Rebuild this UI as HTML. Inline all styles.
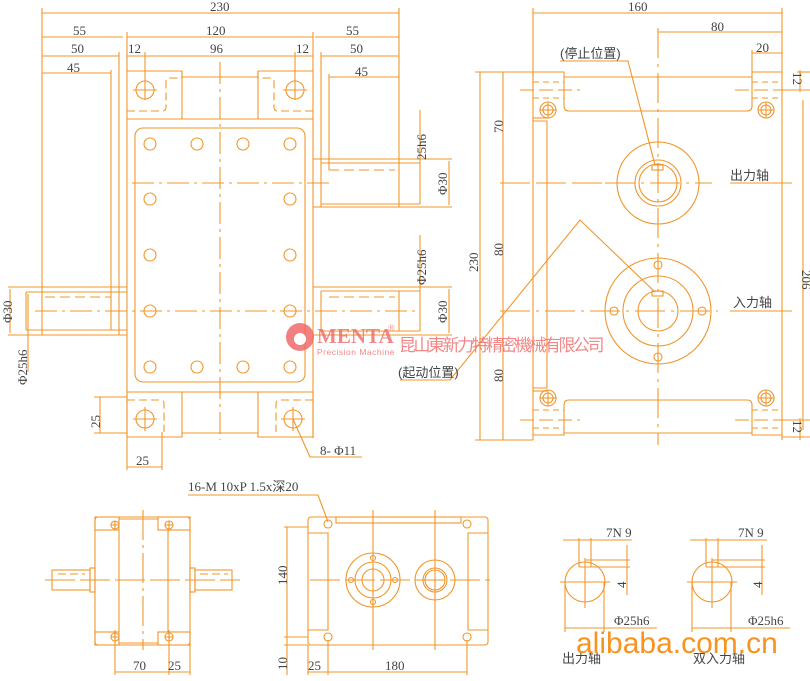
<!DOCTYPE html>
<html><head><meta charset="utf-8"><style>
html,body{margin:0;padding:0;background:#fff;width:810px;height:681px;overflow:hidden}
svg{display:block}
text{font-family:"Liberation Serif","Noto Sans CJK SC",serif;fill:#444;font-size:13px}
.c{font-family:"Liberation Sans","Noto Sans CJK SC",sans-serif}
</style></head><body>
<svg width="810" height="681" viewBox="0 0 810 681" xmlns="http://www.w3.org/2000/svg">
<g stroke="#f0962a" stroke-width="1.1" fill="none">
<line x1="42" y1="13" x2="399" y2="13"/>
<line x1="42" y1="37" x2="123" y2="37"/><line x1="127" y1="37" x2="313" y2="37"/><line x1="315" y1="37" x2="399" y2="37"/>
<line x1="42" y1="56" x2="119" y2="56"/><line x1="127" y1="56" x2="313" y2="56"/><line x1="321" y1="56" x2="399" y2="56"/>
<line x1="42" y1="73" x2="111" y2="73"/><line x1="329" y1="77" x2="399" y2="77"/>
<line x1="42" y1="8" x2="42" y2="335"/><line x1="399" y1="8" x2="399" y2="207"/>
<line x1="127" y1="32" x2="127" y2="438"/><line x1="313" y1="32" x2="313" y2="438"/>
<line x1="119" y1="52" x2="119" y2="335"/><line x1="111" y1="70" x2="111" y2="330"/>
<line x1="321" y1="52" x2="321" y2="207"/><line x1="329" y1="74" x2="329" y2="170"/>
<line x1="145" y1="52" x2="145" y2="100"/><line x1="295" y1="52" x2="295" y2="100"/>
<path d="M127 71 H182 V77 H258 V71 H313"/>
<line x1="182" y1="71" x2="182" y2="119"/><line x1="258" y1="71" x2="258" y2="119"/>
<line x1="127" y1="119" x2="313" y2="119"/>
<path d="M127 111 H162 Q166 111 166 107 V82 Q166 78 170 78 H182" stroke-dasharray="8 4"/>
<path d="M313 111 H278 Q274 111 274 107 V82 Q274 78 270 78 H258" stroke-dasharray="8 4"/>
<rect x="135" y="128" width="170" height="254" rx="8"/>
<line x1="127" y1="392" x2="313" y2="392"/>
<path d="M127 392 V437 H182 V392"/><path d="M313 392 V437 H258 V392"/>
<line x1="182" y1="433" x2="258" y2="433"/>
<path d="M127 400 H160 Q164 400 164 404 V432" stroke-dasharray="8 4"/>
<path d="M313 400 H280 Q276 400 276 404 V432" stroke-dasharray="8 4"/>
<line x1="220" y1="62" x2="220" y2="440" stroke-dasharray="22 5 3 5"/>
<line x1="132" y1="183" x2="330" y2="183" stroke-dasharray="22 5 3 5"/>
<line x1="35" y1="311" x2="420" y2="311" stroke-dasharray="22 5 3 5"/>
<circle cx="145" cy="90" r="9"/><line x1="133" y1="90" x2="157" y2="90"/>
<circle cx="295" cy="90" r="9"/><line x1="283" y1="90" x2="307" y2="90"/>
<circle cx="145" cy="419" r="9"/><line x1="133" y1="419" x2="157" y2="419"/><line x1="145" y1="407" x2="145" y2="431"/>
<circle cx="293" cy="419" r="9"/><line x1="281" y1="419" x2="305" y2="419"/><line x1="293" y1="407" x2="293" y2="431"/>
<g>
<circle cx="150" cy="144" r="6"/><circle cx="197" cy="144" r="6"/><circle cx="243" cy="144" r="6"/><circle cx="290" cy="144" r="6"/>
<circle cx="150" cy="199" r="6"/><circle cx="290" cy="199" r="6"/>
<circle cx="150" cy="255" r="6"/><circle cx="290" cy="255" r="6"/>
<circle cx="150" cy="311" r="6"/><circle cx="290" cy="311" r="6"/>
<circle cx="150" cy="367" r="6"/><circle cx="197" cy="367" r="6"/><circle cx="243" cy="367" r="6"/><circle cx="290" cy="367" r="6"/>
</g>
<line x1="8" y1="287" x2="127" y2="287"/><line x1="26" y1="292" x2="127" y2="292"/>
<line x1="26" y1="330" x2="127" y2="330"/><line x1="8" y1="335" x2="127" y2="335"/>
<line x1="26" y1="292" x2="26" y2="330"/>
<line x1="45" y1="297" x2="111" y2="297" stroke-dasharray="10 5"/>
<line x1="10" y1="289" x2="10" y2="333"/><line x1="28" y1="294" x2="28" y2="372"/>
<line x1="313" y1="159" x2="452" y2="159"/><line x1="321" y1="163" x2="420" y2="163"/>
<line x1="321" y1="204" x2="420" y2="204"/><line x1="313" y1="207" x2="452" y2="207"/>
<line x1="329" y1="170" x2="395" y2="170" stroke-dasharray="10 5"/>
<line x1="420" y1="110" x2="420" y2="204"/><line x1="449" y1="161" x2="449" y2="205"/>
<line x1="313" y1="287" x2="452" y2="287"/><line x1="321" y1="291" x2="420" y2="291"/>
<line x1="321" y1="331" x2="420" y2="331"/><line x1="313" y1="335" x2="452" y2="335"/>
<line x1="329" y1="297" x2="395" y2="297" stroke-dasharray="10 5"/>
<line x1="321" y1="291" x2="321" y2="331"/><line x1="399" y1="291" x2="399" y2="331"/>
<line x1="420" y1="235" x2="420" y2="331"/><line x1="449" y1="289" x2="449" y2="333"/>
<line x1="94" y1="397" x2="127" y2="397"/><line x1="94" y1="433" x2="127" y2="433"/><line x1="100" y1="397" x2="100" y2="433"/>
<line x1="127" y1="438" x2="127" y2="470"/><line x1="162" y1="432" x2="162" y2="470"/><line x1="127" y1="467" x2="162" y2="467"/>
<polyline points="293,419 310,457 362,457"/>
<line x1="533" y1="8" x2="533" y2="75"/><line x1="782" y1="8" x2="782" y2="440"/>
<line x1="533" y1="13" x2="782" y2="13"/>
<line x1="658" y1="28" x2="658" y2="445" stroke-dasharray="30 6 3 6"/>
<line x1="658" y1="32" x2="782" y2="32"/>
<line x1="752" y1="53" x2="782" y2="53"/><line x1="752" y1="50" x2="752" y2="72"/>
<path d="M533 72 H564 V106 Q564 111 569 111 H747 Q752 111 752 106 V72 H782"/>
<line x1="564" y1="77" x2="752" y2="77"/>
<line x1="533" y1="72" x2="533" y2="440"/>
<line x1="533" y1="82" x2="564" y2="82" stroke-dasharray="6 4"/><line x1="533" y1="98" x2="564" y2="98" stroke-dasharray="6 4"/>
<line x1="752" y1="82" x2="782" y2="82" stroke-dasharray="6 4"/><line x1="752" y1="98" x2="782" y2="98" stroke-dasharray="6 4"/>
<line x1="520" y1="90" x2="580" y2="90" stroke-dasharray="14 5"/><line x1="735" y1="90" x2="795" y2="90" stroke-dasharray="14 5"/>
<path d="M533 435 H564 V405 Q564 400 569 400 H747 Q752 400 752 405 V435 H782"/>
<line x1="564" y1="433" x2="752" y2="433"/>
<line x1="533" y1="410" x2="564" y2="410" stroke-dasharray="6 4"/><line x1="533" y1="428" x2="564" y2="428" stroke-dasharray="6 4"/>
<line x1="752" y1="410" x2="782" y2="410" stroke-dasharray="6 4"/><line x1="752" y1="428" x2="782" y2="428" stroke-dasharray="6 4"/>
<line x1="520" y1="420" x2="580" y2="420" stroke-dasharray="14 5"/><line x1="735" y1="420" x2="795" y2="420" stroke-dasharray="14 5"/>
<path d="M533 121 H547 V388 H533"/><line x1="533" y1="118" x2="547" y2="118"/><line x1="533" y1="391" x2="547" y2="391"/>
<circle cx="548" cy="110" r="8"/><circle cx="548" cy="110" r="5"/><line x1="540" y1="110" x2="556" y2="110"/><line x1="548" y1="102" x2="548" y2="118"/>
<circle cx="766" cy="110" r="8"/><circle cx="766" cy="110" r="5"/><line x1="758" y1="110" x2="774" y2="110"/><line x1="766" y1="102" x2="766" y2="118"/>
<circle cx="548" cy="398" r="8"/><circle cx="548" cy="398" r="5"/><line x1="540" y1="398" x2="556" y2="398"/><line x1="548" y1="390" x2="548" y2="406"/>
<circle cx="766" cy="398" r="8"/><circle cx="766" cy="398" r="5"/><line x1="758" y1="398" x2="774" y2="398"/><line x1="766" y1="390" x2="766" y2="406"/>
<circle cx="658" cy="183" r="41"/><circle cx="658" cy="183" r="23"/><circle cx="658" cy="183" r="19"/>
<rect x="652" y="165" width="11" height="5"/>
<line x1="500" y1="183" x2="605" y2="183" stroke-dasharray="30 6"/><line x1="605" y1="183" x2="712" y2="183" stroke-dasharray="30 6 3 6"/>
<line x1="730" y1="183" x2="792" y2="183"/>
<circle cx="658" cy="311" r="53"/><circle cx="658" cy="311" r="35"/><circle cx="658" cy="311" r="20"/>
<rect x="652" y="291" width="11" height="5"/>
<circle cx="658" cy="265" r="4"/><circle cx="658" cy="357" r="4"/><circle cx="614" cy="311" r="4"/><circle cx="702" cy="311" r="4"/>
<line x1="500" y1="311" x2="718" y2="311" stroke-dasharray="30 6 3 6"/>
<line x1="730" y1="311" x2="792" y2="311"/>
<line x1="475" y1="72" x2="533" y2="72"/><line x1="475" y1="440" x2="533" y2="440"/>
<line x1="480" y1="72" x2="480" y2="440"/><line x1="503" y1="72" x2="503" y2="440"/>
<line x1="797" y1="72" x2="810" y2="72"/><line x1="782" y1="90" x2="810" y2="90"/><line x1="782" y1="420" x2="810" y2="420"/><line x1="782" y1="437" x2="810" y2="437"/>
<line x1="803" y1="100" x2="803" y2="430"/><line x1="800" y1="70" x2="800" y2="92"/><line x1="800" y1="418" x2="800" y2="440"/>
<polyline points="560,61 628,61 655,165"/>
<polyline points="400,380 450,380 580,220 655,292"/>
<rect x="95" y="517" width="95" height="128" rx="3"/>
<line x1="119" y1="530" x2="119" y2="632"/><line x1="168" y1="530" x2="168" y2="632"/>
<line x1="143" y1="510" x2="143" y2="650" stroke-dasharray="30 5 3 5"/>
<rect x="95" y="517" width="24" height="13"/><rect x="158" y="517" width="32" height="13"/>
<rect x="95" y="632" width="24" height="13"/><rect x="158" y="632" width="32" height="13"/>
<line x1="119" y1="519" x2="158" y2="519"/><line x1="119" y1="643" x2="158" y2="643"/>
<circle cx="115" cy="525" r="4"/><circle cx="169" cy="525" r="4"/><circle cx="115" cy="637" r="4"/><circle cx="169" cy="637" r="4"/>
<path d="M111 525h8M115 521v8M165 525h8M169 521v8M111 637h8M115 633v8M165 637h8M169 633v8"/>
<rect x="90" y="568" width="5" height="24"/><rect x="190" y="568" width="5" height="24"/>
<rect x="52" y="570" width="38" height="20"/><rect x="195" y="570" width="37" height="20"/>
<line x1="58" y1="574" x2="85" y2="574" stroke-dasharray="8 4"/><line x1="200" y1="574" x2="228" y2="574" stroke-dasharray="8 4"/>
<line x1="45" y1="580" x2="240" y2="580" stroke-dasharray="30 5"/>
<line x1="115" y1="630" x2="115" y2="675"/><line x1="169" y1="630" x2="169" y2="675"/><line x1="190" y1="645" x2="190" y2="675"/>
<line x1="115" y1="672" x2="190" y2="672"/>
<rect x="308" y="517" width="180" height="128" rx="3"/>
<path d="M311 533 H328 V630 H311"/><path d="M485 533 H468 V630 H485"/>
<line x1="308" y1="533" x2="328" y2="533"/><line x1="308" y1="630" x2="328" y2="630"/>
<line x1="468" y1="533" x2="488" y2="533"/><line x1="468" y1="630" x2="488" y2="630"/>
<rect x="336" y="517" width="125" height="6"/>
<circle cx="328" cy="524" r="4"/><circle cx="467" cy="524" r="4"/><circle cx="328" cy="637" r="4"/><circle cx="467" cy="637" r="4"/>
<circle cx="373" cy="580" r="27"/><circle cx="373" cy="580" r="18"/><circle cx="373" cy="580" r="11"/>
<circle cx="373" cy="558" r="2.5"/><circle cx="373" cy="602" r="2.5"/><circle cx="351" cy="580" r="2.5"/><circle cx="395" cy="580" r="2.5"/>
<circle cx="435" cy="580" r="20"/><circle cx="435" cy="580" r="12"/><circle cx="435" cy="580" r="10"/>
<line x1="373" y1="510" x2="373" y2="650"/><line x1="435" y1="510" x2="435" y2="650"/>
<line x1="310" y1="580" x2="490" y2="580" stroke-dasharray="30 5"/>
<line x1="284" y1="527" x2="308" y2="527"/><line x1="284" y1="637" x2="308" y2="637"/><line x1="284" y1="645" x2="308" y2="645"/>
<line x1="287" y1="527" x2="287" y2="675"/>
<line x1="308" y1="645" x2="308" y2="675"/><line x1="328" y1="640" x2="328" y2="675"/><line x1="467" y1="640" x2="467" y2="675"/>
<line x1="308" y1="672" x2="467" y2="672"/>
<polyline points="188,495 318,495 328,522"/>
<circle cx="585" cy="582" r="20"/>
<line x1="560" y1="582" x2="610" y2="582"/><line x1="585" y1="558" x2="585" y2="608"/>
<path d="M579 567 V538 M591 567 V538"/><line x1="579" y1="567" x2="630" y2="567"/>
<line x1="563" y1="540" x2="632" y2="540"/><line x1="585" y1="560" x2="630" y2="560"/>
<line x1="627" y1="545" x2="627" y2="595"/>
<line x1="565" y1="582" x2="565" y2="632"/><line x1="604" y1="582" x2="604" y2="632"/><line x1="565" y1="628" x2="657" y2="628"/>
<circle cx="712" cy="582" r="20"/>
<line x1="687" y1="582" x2="737" y2="582"/><line x1="712" y1="558" x2="712" y2="608"/>
<path d="M706 567 V538 M718 567 V538"/><line x1="706" y1="567" x2="765" y2="567"/>
<line x1="690" y1="540" x2="767" y2="540"/><line x1="712" y1="560" x2="765" y2="560"/>
<line x1="762" y1="545" x2="762" y2="595"/>
<line x1="692" y1="582" x2="692" y2="632"/><line x1="731" y1="582" x2="731" y2="632"/><line x1="692" y1="628" x2="790" y2="628"/>
</g>
<g fill="#f06a6a" opacity="0.85">
<circle cx="300" cy="337" r="14"/>
</g>
<circle cx="300" cy="339" r="6" fill="#fff"/>
<g>
<text x="210" y="11">230</text>
<text x="73" y="35">55</text><text x="206" y="35">120</text><text x="346" y="35">55</text>
<text x="71" y="53">50</text><text x="128" y="53">12</text><text x="210" y="53">96</text><text x="296" y="53">12</text><text x="350" y="53">50</text>
<text x="67" y="72">45</text><text x="355" y="76">45</text>
<text transform="translate(426,160) rotate(-90)">25h6</text>
<text transform="translate(447,195) rotate(-90)">Φ30</text>
<text transform="translate(426,285) rotate(-90)">Φ25h6</text>
<text transform="translate(447,323) rotate(-90)">Φ30</text>
<text transform="translate(12,323) rotate(-90)">Φ30</text>
<text transform="translate(27,385) rotate(-90)">Φ25h6</text>
<text transform="translate(100,428) rotate(-90)">25</text>
<text x="136" y="465">25</text>
<text x="320" y="455">8- Φ11</text>
<text x="628" y="11">160</text><text x="711" y="31">80</text><text x="756" y="52">20</text>
<text class="c" x="560" y="58">(停止位置)</text>
<text class="c" x="730" y="180">出力轴</text>
<text class="c" x="733" y="307">入力轴</text>
<text class="c" x="398" y="377">(起动位置)</text>
<text transform="translate(478,272) rotate(-90)">230</text>
<text transform="translate(503,133) rotate(-90)">70</text>
<text transform="translate(503,256) rotate(-90)">80</text>
<text transform="translate(503,382) rotate(-90)">80</text>
<text transform="translate(802,270) rotate(90)">206</text>
<text transform="translate(793,72) rotate(90)">12</text>
<text transform="translate(793,420) rotate(90)">12</text>
<text x="188" y="491">16-M 10xP 1.5x深20</text>
<text transform="translate(287,585) rotate(-90)">140</text>
<text transform="translate(287,670) rotate(-90)">10</text>
<text x="133" y="670">70</text><text x="168" y="670">25</text>
<text x="308" y="670">25</text><text x="385" y="670">180</text>
<text x="606" y="537">7N 9</text><text x="738" y="537">7N 9</text>
<text transform="translate(626,588) rotate(-90)">4</text>
<text transform="translate(762,588) rotate(-90)">4</text>
<text x="614" y="625">Φ25h6</text><text x="748" y="625">Φ25h6</text>
<text class="c" x="562" y="663">出力轴</text>
<text class="c" x="693" y="663">双入力轴</text>
</g>
<g opacity="0.8">
<text x="317" y="343" style="font-size:21px;font-weight:bold;fill:#f06a6a">MENTA</text>
<text x="388" y="331" style="font-size:9px;fill:#f06a6a">®</text>
<text class="c" x="317" y="355" style="font-size:8.5px;fill:#f06a6a;letter-spacing:0.5px">Precision  Machine</text>
<text class="c" x="399" y="351" style="font-size:17px;fill:#f06a6a;letter-spacing:-2.5px">昆山東新力特精密機械有限公司</text>
</g>
<text class="c" x="576" y="653" style="font-size:30px;fill:#f7931e">alibaba.com.cn</text>
</svg>
</body></html>
